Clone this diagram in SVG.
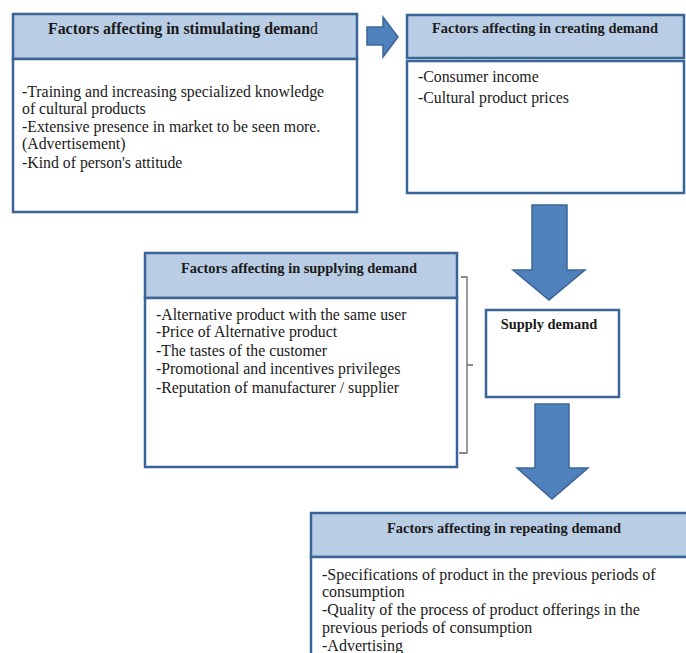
<svg xmlns="http://www.w3.org/2000/svg" width="686" height="653" viewBox="0 0 686 653">
<defs>
<style>
.hdr{fill:#b9cde5;stroke:#3b6598;stroke-width:2.5}
.body{fill:#ffffff;stroke:#3b6598;stroke-width:2.5}
.arrow{fill:#4f81bd;stroke:#3b6598;stroke-width:1.5}
.title{font-family:"Liberation Serif","Times New Roman",serif;font-weight:bold;font-size:14.4px;fill:#1a1a1a;text-anchor:middle}
.txt{font-family:"Liberation Serif","Times New Roman",serif;font-size:15.8px;fill:#1a1a1a}
.brace{fill:none;stroke:#666;stroke-width:1.3}
</style>
</defs>
<rect width="686" height="653" fill="#ffffff"/>
<g id="stimulating">
<rect class="hdr" x="13" y="14" width="344" height="45"/>
<rect class="body" x="13" y="59" width="344" height="153"/>
<text class="title" x="183" y="34" style="font-size:15.9px">Factors affecting in stimulating deman<tspan font-weight="normal">d</tspan></text>
<text class="txt" x="22" y="97">-Training and increasing specialized knowledge</text>
<text class="txt" x="22" y="114">of cultural products</text>
<text class="txt" x="22" y="132">-Extensive presence in market to be seen more.</text>
<text class="txt" x="22" y="149">(Advertisement)</text>
<text class="txt" x="22" y="168">-Kind of person's attitude</text>
</g>
<g id="creating">
<rect class="hdr" x="407" y="15" width="277" height="43"/>
<rect class="body" x="407" y="61" width="277" height="132"/>
<text class="title" x="545" y="33">Factors affecting in creating demand</text>
<text class="txt" x="418" y="82">-Consumer income</text>
<text class="txt" x="418" y="103">-Cultural product prices</text>
</g>
<g id="supplying">
<rect class="hdr" x="145" y="253" width="312" height="45"/>
<rect class="body" x="145" y="298" width="312" height="169"/>
<text class="title" x="299" y="273">Factors affecting in supplying demand</text>
<text class="txt" x="156" y="320">-Alternative product with the same user</text>
<text class="txt" x="156" y="337">-Price of Alternative product</text>
<text class="txt" x="156" y="356">-The tastes of the customer</text>
<text class="txt" x="156" y="374">-Promotional and incentives privileges</text>
<text class="txt" x="156" y="393">-Reputation of manufacturer / supplier</text>
</g>
<g id="supply">
<rect class="body" x="486" y="310" width="133" height="87"/>
<text class="title" x="549" y="329">Supply demand</text>
</g>
<g id="repeating">
<rect class="hdr" x="311" y="513" width="380" height="44"/>
<rect class="body" x="311" y="557" width="380" height="110"/>
<text class="title" x="504" y="533">Factors affecting in repeating demand</text>
<text class="txt" x="322" y="580" style="font-size:16px">-Specifications of product in the previous periods of</text>
<text class="txt" x="322" y="597" style="font-size:16px">consumption</text>
<text class="txt" x="322" y="615" style="font-size:16px">-Quality of the process of product offerings in the</text>
<text class="txt" x="322" y="633" style="font-size:16px">previous periods of consumption</text>
<text class="txt" x="322" y="651" style="font-size:16px">-Advertising</text>
</g>
<g id="connectors">
<path class="arrow" d="M367,27 L383,27 L383,17 L398,37 L383,57 L383,45 L367,45 Z"/>
<path class="arrow" d="M532,205 L567,205 L567,270 L585,270 L549,300 L513,270 L532,270 Z"/>
<path class="arrow" d="M535,404 L569,404 L569,468 L588,468 L552,499 L517,468 L535,468 Z"/>
<path class="brace" d="M461,277 L467,277 L467,453 L459,453 M467,365 L473,365"/>
</g>
</svg>
